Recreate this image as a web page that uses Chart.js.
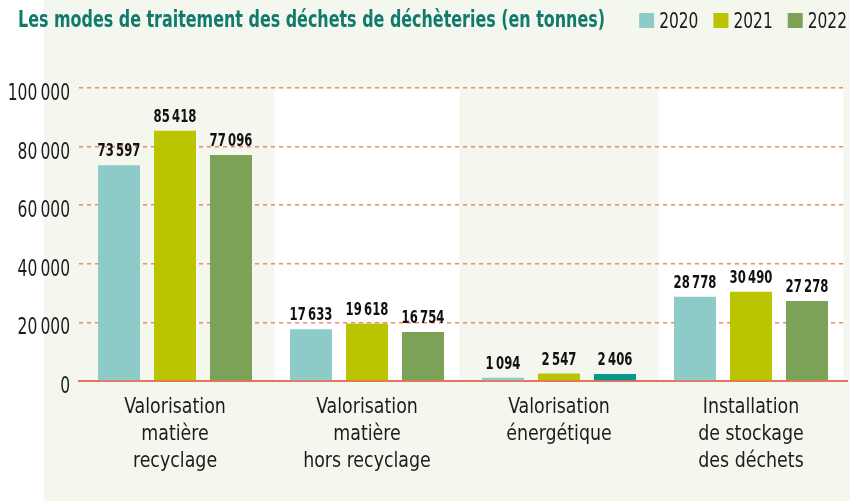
<!DOCTYPE html>
<html>
<head>
<meta charset="utf-8">
<script src="https://cdn.jsdelivr.net/npm/chart.js@4.4.1/dist/chart.umd.min.js"></script>
<style>
  html, body { margin: 0; padding: 0; background: #fff; }
</style>
</head>
<body>
<canvas id="wasteChart" width="850" height="501"></canvas>
<script>
// Data
const chartTitle = "Les modes de traitement des déchets de déchèteries (en tonnes)";
const categories = [
  ["Valorisation", "matière", "recyclage"],
  ["Valorisation", "matière", "hors recyclage"],
  ["Valorisation", "énergétique"],
  ["Installation", "de stockage", "des déchets"]
];
const years = ["2020", "2021", "2022"];
const values2020 = [73597, 17633, 1094, 28778];
const values2021 = [85418, 19618, 2547, 30490];
const values2022 = [77096, 16754, 2406, 27278];
const yTicks = [0, 20000, 40000, 60000, 80000, 100000];

// Styles
const FONT = "'DejaVu Sans Condensed', 'Liberation Sans Narrow', sans-serif";
const TEXT = "#1c1c1c";
const PAGE_BG = "#f4f7ee";
const GRID = "#f3866a";
const AXIS = "#e8735a";
const colors2022 = ["#7ba256", "#7ba256", "#0a978b", "#7ba256"];

const fmt = v => String(v).replace(/\B(?=(\d{3})+(?!\d))/g, "\u2009");

// the print uses a condensed face: squeeze text horizontally
function squeezed(ctx, text, x, y, align, sx) {
  ctx.save();
  ctx.translate(x, y);
  ctx.scale(sx, 1);
  ctx.textAlign = align;
  ctx.textBaseline = "alphabetic";
  ctx.fillText(text, 0, 0);
  ctx.restore();
}

// page background + white bands behind every second category
const backdrop = {
  id: "backdrop",
  beforeDraw(chart) {
    const { ctx, width, height, chartArea } = chart;
    const xs = chart.scales.x;
    const step = xs.width / categories.length;
    ctx.save();
    ctx.fillStyle = "#fff";
    ctx.fillRect(0, 0, width, height);
    ctx.fillStyle = PAGE_BG;
    ctx.fillRect(44, 0, width - 44, height);
    ctx.fillStyle = "#fff";
    categories.forEach((c, i) => {
      if (i % 2 === 1) {
        const cx = xs.getPixelForValue(i);
        ctx.fillRect(cx - step * 0.482, chartArea.top + 1, step * 0.964, chartArea.bottom - chartArea.top - 1);
      }
    });
    ctx.restore();
  }
};

// values above the bars
const barLabels = {
  id: "barLabels",
  afterDatasetsDraw(chart) {
    const { ctx } = chart;
    ctx.save();
    ctx.font = "bold 18px " + FONT;
    ctx.fillStyle = "#111";
    chart.data.datasets.forEach((ds, di) => {
      chart.getDatasetMeta(di).data.forEach((bar, i) => {
        squeezed(ctx, fmt(ds.data[i]), bar.x, bar.y - 9, "center", 0.72);
      });
    });
    ctx.restore();
  }
};

// axis labels, drawn at the scales' tick positions
const axisLabels = {
  id: "axisLabels",
  afterDraw(chart) {
    const { ctx } = chart;
    const xs = chart.scales.x, ys = chart.scales.y;
    ctx.save();
    ctx.fillStyle = TEXT;
    ctx.font = "23px " + FONT;
    ys.ticks.forEach((t, i) => {
      squeezed(ctx, fmt(t.value), 70, ys.getPixelForTick(i) + 12, "right", 0.75);
    });
    ctx.font = "22px " + FONT;
    chart.data.labels.forEach((lines, i) => {
      const cx = xs.getPixelForTick(i);
      lines.forEach((line, k) => {
        squeezed(ctx, line, cx, xs.top + 32 + k * 27, "center", 0.88);
      });
    });
    ctx.restore();
  }
};

// title on the left, legend on the right, same line
const header = {
  id: "header",
  afterDraw(chart) {
    const { ctx } = chart;
    ctx.save();
    ctx.font = "bold 23px " + FONT;
    ctx.fillStyle = "#12796d";
    const w = ctx.measureText(chartTitle).width;
    squeezed(ctx, chartTitle, 18, 27, "left", Math.min(1, 587 / w));

    ctx.font = "22px " + FONT;
    const sx = 0.78;
    let x = 847;
    chart.data.datasets.slice().reverse().forEach(ds => {
      const tw = ctx.measureText(ds.label).width * sx;
      x -= tw;
      ctx.fillStyle = TEXT;
      squeezed(ctx, ds.label, x, 28, "left", sx);
      x -= 20;
      ctx.fillStyle = Array.isArray(ds.backgroundColor) ? ds.backgroundColor[0] : ds.backgroundColor;
      ctx.fillRect(x, 13, 15, 15);
      x -= 15;
    });
    ctx.restore();
  }
};

new Chart(document.getElementById("wasteChart"), {
  type: "bar",
  data: {
    labels: categories,
    datasets: [
      { label: years[0], data: values2020, backgroundColor: "#8dcbc9" },
      { label: years[1], data: values2021, backgroundColor: "#bac400" },
      { label: years[2], data: values2022, backgroundColor: colors2022 }
    ]
  },
  options: {
    responsive: false,
    animation: false,
    devicePixelRatio: 1,
    layout: { padding: { top: 88, right: 3, bottom: 0, left: 0 } },
    datasets: { bar: { categoryPercentage: 0.875, barPercentage: 0.75, borderWidth: 0 } },
    plugins: {
      legend: { display: false },
      title: { display: false },
      tooltip: { enabled: false }
    },
    scales: {
      x: {
        grid: { display: false, drawTicks: false },
        border: { display: true, color: AXIS, width: 2 },
        ticks: { display: false, autoSkip: false },
        afterFit(scale) { scale.height = 120; }
      },
      y: {
        min: yTicks[0],
        max: yTicks[yTicks.length - 1],
        ticks: { display: false, stepSize: yTicks[1] - yTicks[0] },
        grid: { color: GRID, lineWidth: 1.5, drawTicks: false },
        border: { display: false, dash: [4, 4] },
        afterFit(scale) { scale.width = 79; }
      }
    }
  },
  plugins: [backdrop, barLabels, axisLabels, header]
});
</script>
</body>
</html>
